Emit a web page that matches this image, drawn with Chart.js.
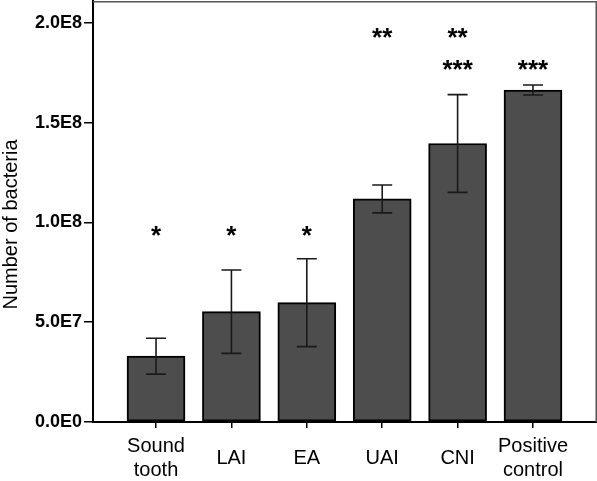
<!DOCTYPE html>
<html>
<head>
<meta charset="utf-8">
<script src="https://cdn.jsdelivr.net/npm/chart.js@4.4.1/dist/chart.umd.min.js"></script>
<style>
  html, body { margin: 0; padding: 0; background: #fff; }
  #wrap { width: 597px; height: 481px; position: relative; }
</style>
</head>
<body>
<div id="wrap"><canvas id="bacteriaChart"></canvas></div>
<script>
// group names on the x axis
const groups = [['Sound', 'tooth'], 'LAI', 'EA', 'UAI', 'CNI', ['Positive', 'control']];
// mean number of bacteria per group
const means = [3.3e7, 5.53e7, 5.98e7, 1.118e8, 1.396e8, 1.664e8];
// error bar half-length (+/-)
const errors = [9.0e6, 2.09e7, 2.2e7, 7.0e6, 2.45e7, 2.5e6];
// y axis tick values and labels
const yTicks = [0, 5e7, 1e8, 1.5e8, 2e8];
const yTickLabels = ['0.0E0', '5.0E7', '1.0E8', '1.5E8', '2.0E8'];
// significance marks: text, group index, height (data value)
const starText = ['*', '*', '*', '**', '**', '***', '***'];
const starGroup = [0, 1, 2, 3, 4, 4, 5];
const starValue = [9.47e7, 9.47e7, 9.47e7, 1.942e8, 1.942e8, 1.782e8, 1.782e8];
const yTitle = 'Number of bacteria';

const FONT = "'Liberation Sans', Arial, Helvetica, sans-serif";

// error bars, significance stars, y title and the grey top/right frame
const extrasPlugin = {
  id: 'extras',
  afterDatasetsDraw(chart) {
    const ctx = chart.ctx;
    const xs = chart.scales.x, ys = chart.scales.y;
    const area = chart.chartArea;
    ctx.save();
    // error bars
    ctx.strokeStyle = '#1a1a1a';
    ctx.lineWidth = 1.6;
    means.forEach((m, i) => {
      const x = xs.getPixelForValue(i);
      const yHi = ys.getPixelForValue(m + errors[i]);
      const yLo = ys.getPixelForValue(m - errors[i]);
      ctx.beginPath();
      ctx.moveTo(x, yHi); ctx.lineTo(x, yLo);
      ctx.moveTo(x - 10, yHi); ctx.lineTo(x + 10, yHi);
      ctx.moveTo(x - 10, yLo); ctx.lineTo(x + 10, yLo);
      ctx.stroke();
    });
    // stars
    ctx.fillStyle = '#000';
    ctx.font = 'bold 26px ' + FONT;
    ctx.textAlign = 'center';
    ctx.textBaseline = 'alphabetic';
    starText.forEach((t, k) => {
      const x = xs.getPixelForValue(starGroup[k]);
      const y = ys.getPixelForValue(starValue[k]);
      ctx.fillText(t, x, y + 26 * 0.44);
    });
    // y axis title (a bit below the middle, like the original)
    ctx.save();
    ctx.translate(17, (area.top + area.bottom) / 2 + 13);
    ctx.rotate(-Math.PI / 2);
    ctx.font = '20px ' + FONT;
    ctx.fillText(yTitle, 0, 0);
    ctx.restore();
    // frame top and right
    ctx.strokeStyle = '#555';
    ctx.lineWidth = 1.5;
    ctx.beginPath();
    ctx.moveTo(area.left, area.top + 0.75);
    ctx.lineTo(area.right - 0.75, area.top + 0.75);
    ctx.lineTo(area.right - 0.75, area.bottom);
    ctx.stroke();
    ctx.restore();
  }
};

const chart = new Chart(document.getElementById('bacteriaChart'), {
  type: 'bar',
  data: {
    datasets: [{
      data: means.map((v, i) => ({ x: i, y: v })),
      backgroundColor: '#4d4d4d',
      borderColor: '#000',
      borderWidth: 2,
      borderSkipped: false,
      barThickness: 58
    }]
  },
  options: {
    responsive: true,
    maintainAspectRatio: false,
    animation: false,
    layout: { padding: { top: 1, right: 0, left: 0, bottom: 0 } },
    plugins: { legend: { display: false }, tooltip: { enabled: false } },
    scales: {
      x: {
        type: 'linear',
        offset: false,
        min: -0.836,
        max: 5.849,
        afterBuildTicks(scale) { scale.ticks = groups.map((g, i) => ({ value: i })); },
        afterFit(scale) { scale.height = 59; },
        grid: { offset: false, drawOnChartArea: false, drawTicks: true, tickLength: 6, color: '#000', lineWidth: 1.5 },
        border: { display: true, color: '#000', width: 2 },
        ticks: {
          callback: (v) => groups[v],
          color: '#000',
          padding: 18,
          crossAlign: 'center',
          maxRotation: 0,
          autoSkip: false,
          font: { family: FONT, size: 20, lineHeight: 1.2 }
        }
      },
      y: {
        min: 0,
        max: 2.11e8,
        afterBuildTicks(scale) { scale.ticks = yTicks.map(v => ({ value: v })); },
        afterFit(scale) { scale.width = 93; scale.paddingTop = 0; },
        grid: { drawOnChartArea: false, drawTicks: true, tickLength: 9, color: '#000', lineWidth: 1.5 },
        border: { display: true, color: '#000', width: 2 },
        ticks: {
          callback: (v) => yTickLabels[yTicks.indexOf(v)],
          color: '#000',
          padding: 2,
          font: { family: FONT, size: 18, weight: 'bold' }
        },
        title: { display: false }
      }
    }
  },
  plugins: [extrasPlugin]
});
</script>
</body>
</html>
